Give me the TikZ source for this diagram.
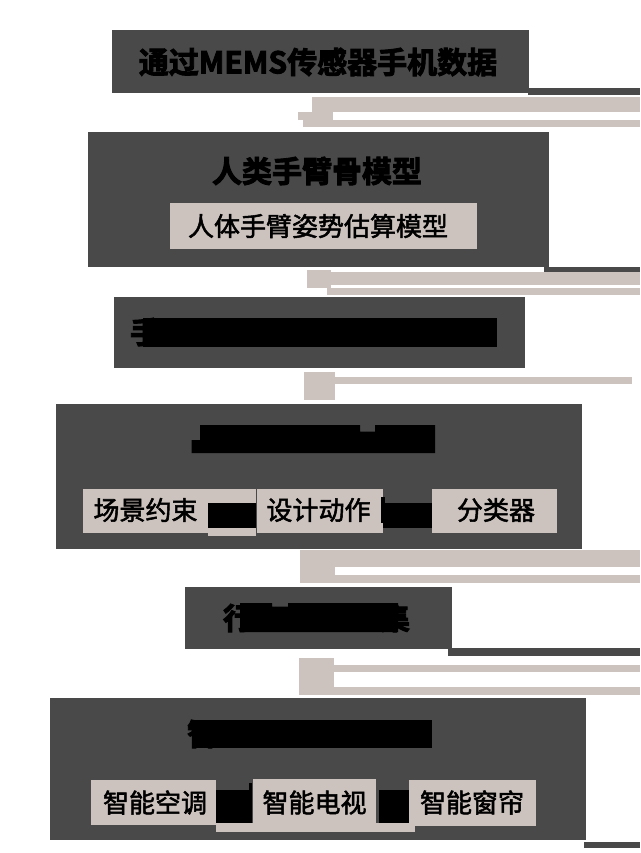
\documentclass[tikz,border=0pt]{standalone}
\usepackage{fontspec}
\setmainfont{Noto Sans CJK SC}
\newfontfamily\heavyf{Noto Sans CJK SC}[UprightFont=* Bold,UprightFeatures={FakeBold=3}]
\newfontfamily\medf{Noto Sans CJK SC}[UprightFeatures={FakeBold=2}]
\definecolor{dk}{HTML}{4A4949}
\definecolor{bg}{HTML}{CCC3BE}
\begin{document}
\begin{tikzpicture}[x=1pt,y=-1pt,
  box/.style={fill=dk,draw=none,inner sep=0,anchor=north west},
  sub/.style={fill=bg,draw=none,inner sep=0,anchor=north west},
  ttl/.style={font=\fontsize{30}{30}\selectfont\heavyf,inner sep=0,text=black},
  itm/.style={font=\fontsize{26}{26}\selectfont\medf,inner sep=0,text=black},
  blk/.style={fill=black,draw=none},
  lt/.style={fill=bg,draw=none}]
\useasboundingbox (0,0) rectangle (640,853);
% ---- box 1
\node[box,minimum width=417pt,minimum height=63pt] (b1) at (112,30) {};
\node[ttl] (t1) at (318,62) {通过MEMS传感器手机数据};
\fill[dk] (528,88.3) rectangle (640,95.5);
% connector 1
\fill[lt] (311.7,96.7) rectangle (640,111.7);
\fill[lt] (298,111.7) rectangle (333,120);
\fill[lt] (303,120) rectangle (640,127);
% ---- box 2
\node[box,minimum width=461pt,minimum height=135pt] (b2) at (88,131.7) {};
\node[ttl] (t2) at (317,171) {人类手臂骨模型};
\node[sub,minimum width=307pt,minimum height=45.6pt] (s2) at (170,202.7) {};
\node[itm] (t2b) at (318,226) {人体手臂姿势估算模型};
\fill[dk] (544,266.7) rectangle (640,271.7);
% connector 2
\fill[lt] (331,271.7) rectangle (640,284.5);
\fill[lt] (306.6,270) rectangle (331,288.3);
\fill[lt] (327,287.5) rectangle (640,295);
% ---- box 3
\node[box,minimum width=411pt,minimum height=71pt] (b3) at (114,296.7) {};
\node[ttl] (t3) at (145,332) {手};
\fill[blk] (143.3,318.3) rectangle (496.7,346.7);
% connector 3
\fill[lt] (304,371.7) rectangle (335,400);
\fill[lt] (328.5,376.7) rectangle (632,384);
% ---- box 4
\node[box,minimum width=526pt,minimum height=145pt] (b4) at (55.6,403.3) {};
\fill[blk] (200,425) -- (360,425) -- (360,431.7) -- (375,431.7) -- (375,425) -- (435,425)
  -- (435,453) -- (191.7,453) -- (191.7,440) -- (200,440) -- cycle;
\node[sub,minimum width=173pt,minimum height=44.7pt] (s41) at (83,488.3) {};
\fill[lt] (208,528) rectangle (256,536);
\fill[blk] (208,503) rectangle (256,528);
\node[itm] (t41) at (145.5,510) {场景约束};
\node[sub,minimum width=126pt,minimum height=44.7pt] (s42) at (257,488.3) {};
\node[itm] (t42) at (318.5,510) {设计动作};
\fill[blk] (381,497) rectangle (384.5,523);
\fill[blk] (383,503) rectangle (432,528);
\node[sub,minimum width=125pt,minimum height=44.7pt] (s43) at (432,488.3) {};
\node[itm] (t43) at (496,510) {分类器};
% connector 4
\fill[lt] (300,550) rectangle (640,566.7);
\fill[lt] (300,566.7) rectangle (334.6,583);
\fill[lt] (329,575) rectangle (640,583.3);
% ---- box 5
\node[box,minimum width=267pt,minimum height=62.3pt] (b5) at (184.6,586.7) {};
\fill[dk] (447.5,648.3) rectangle (640,656);
\node[ttl] (t5a) at (238,618) {行};
\node[ttl] (t5b) at (395,618) {集};
\fill[blk] (240,603) -- (272,603) -- (272,606.7) -- (288,606.7) -- (288,603) -- (398,603)
  -- (398,632) -- (240,632) -- cycle;
% connector 5
\fill[lt] (299.4,658) rectangle (334,695);
\fill[lt] (334,665) rectangle (640,672);
\fill[lt] (329,687) rectangle (640,695);
% ---- box 6
\node[box,minimum width=535.7pt,minimum height=142.3pt] (b6) at (49.6,697.7) {};
\fill[dk] (584,841.7) rectangle (640,847.7);
\node[ttl] (t6) at (202,734) {智};
\fill[blk] (191.7,720) rectangle (431.7,748.3);
\node[sub,minimum width=125pt,minimum height=45pt] (s61) at (91,780) {};
\fill[lt] (216,823) rectangle (415,831.7);
\node[itm] (t61) at (155,802.5) {智能空调};
\fill[blk] (216,790) rectangle (252.4,823);
\node[sub,minimum width=123.6pt,minimum height=52.7pt] (s62) at (252.4,779) {};
\fill[blk] (248.5,783) rectangle (252.4,823);
\node[itm] (t62) at (314.5,802.5) {智能电视};
\fill[blk] (378.6,790) rectangle (409,823);
\node[sub,minimum width=126.5pt,minimum height=46pt] (s63) at (409,780) {};
\node[itm] (t63) at (472,802.5) {智能窗帘};
\end{tikzpicture}
\end{document}
